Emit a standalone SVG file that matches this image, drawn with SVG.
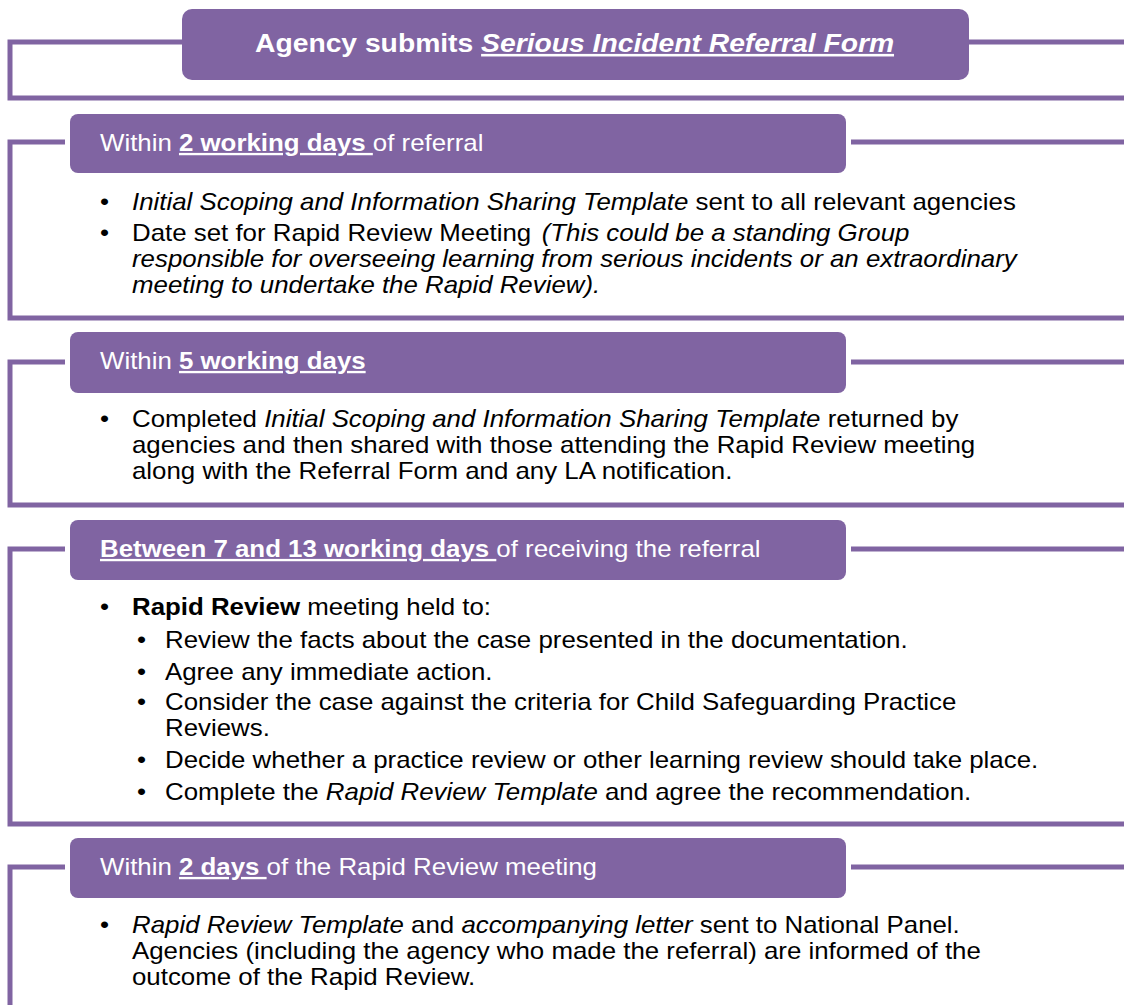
<svg xmlns="http://www.w3.org/2000/svg" width="1124" height="1005" viewBox="0 0 1124 1005">
<style>
.ln{fill:none;stroke:#8064A2;stroke-width:5}
.box{fill:#8064A2}
text{font-family:"Liberation Sans",Arial,sans-serif}
.tt{font-size:25.7px;font-weight:bold;fill:#fff}
.hd{font-size:23.4px;fill:#fff}
.bd{font-size:23.4px;fill:#000}
.b{font-weight:bold}
.i{font-style:italic}
.u{text-decoration:underline}
</style>
<rect width="1124" height="1005" fill="#fff"/>
<g id="connectors">
<path class="ln" d="M184 42H10V98H1124M967 42H1124"/>
<path class="ln" d="M65 142H10V318H1124M851 142H1124"/>
<path class="ln" d="M65 362H10V505H1124M851 362H1124"/>
<path class="ln" d="M65 549H10V824H1124M851 549H1124"/>
<path class="ln" d="M65 867H10V1005M851 867H1124"/>
</g>
<g id="node-referral">
<rect class="box" x="182" y="9" width="787" height="71" rx="10"/>
<text class="tt" transform="translate(255,52) scale(1.1,1)">Agency submits <tspan class="i u">Serious Incident Referral Form</tspan></text>
</g>
<g id="node-2days">
<rect class="box" x="70" y="114" width="776" height="59" rx="8"/>
<text class="hd" transform="translate(100,151) scale(1.105,1)">Within <tspan class="b u">2 working days </tspan>of referral</text>
<text class="bd" transform="translate(100,210) scale(1.105,1)">•</text>
<text class="bd" transform="translate(132,210) scale(1.105,1)"><tspan class="i">Initial Scoping and Information Sharing Template</tspan> sent to all relevant agencies</text>
<text class="bd" transform="translate(100,241) scale(1.105,1)">•</text>
<text class="bd" transform="translate(132,241) scale(1.105,1)">Date set for Rapid Review Meeting <tspan class="i" dx="3">(This could be a standing Group</tspan></text>
<text class="bd i" transform="translate(132,267) scale(1.105,1)">responsible for overseeing learning from serious incidents or an extraordinary</text>
<text class="bd i" transform="translate(132,293) scale(1.105,1)">meeting to undertake the Rapid Review).</text>
</g>
<g id="node-5days">
<rect class="box" x="70" y="332" width="776" height="61" rx="8"/>
<text class="hd" transform="translate(100,369) scale(1.105,1)">Within <tspan class="b u">5 working days</tspan></text>
<text class="bd" transform="translate(100,427) scale(1.105,1)">•</text>
<text class="bd" transform="translate(132,427) scale(1.105,1)">Completed <tspan class="i">Initial Scoping and Information Sharing Template</tspan> returned by</text>
<text class="bd" transform="translate(132,453) scale(1.105,1)">agencies and then shared with those attending the Rapid Review meeting</text>
<text class="bd" transform="translate(132,479) scale(1.105,1)">along with the Referral Form and any LA notification.</text>
</g>
<g id="node-7-13days">
<rect class="box" x="70" y="520" width="776" height="60" rx="8"/>
<text class="hd" transform="translate(100,557) scale(1.105,1)"><tspan class="b u">Between 7 and 13 working days </tspan>of receiving the referral</text>
<text class="bd" transform="translate(100,615) scale(1.105,1)">•</text>
<text class="bd" transform="translate(132,615) scale(1.105,1)"><tspan class="b">Rapid Review</tspan> meeting held to:</text>
<text class="bd" transform="translate(137,648) scale(1.105,1)">•</text>
<text class="bd" transform="translate(165,648) scale(1.105,1)">Review the facts about the case presented in the documentation.</text>
<text class="bd" transform="translate(137,680) scale(1.105,1)">•</text>
<text class="bd" transform="translate(165,680) scale(1.105,1)">Agree any immediate action.</text>
<text class="bd" transform="translate(137,710) scale(1.105,1)">•</text>
<text class="bd" transform="translate(165,710) scale(1.105,1)">Consider the case against the criteria for Child Safeguarding Practice</text>
<text class="bd" transform="translate(165,736) scale(1.105,1)">Reviews.</text>
<text class="bd" transform="translate(137,768) scale(1.105,1)">•</text>
<text class="bd" transform="translate(165,768) scale(1.105,1)">Decide whether a practice review or other learning review should take place.</text>
<text class="bd" transform="translate(137,800) scale(1.105,1)">•</text>
<text class="bd" transform="translate(165,800) scale(1.105,1)">Complete the <tspan class="i">Rapid Review Template</tspan> and agree the recommendation.</text>
</g>
<g id="node-2days-after">
<rect class="box" x="70" y="838" width="776" height="60" rx="8"/>
<text class="hd" transform="translate(100,875) scale(1.105,1)">Within <tspan class="b u">2 days </tspan>of the Rapid Review meeting</text>
<text class="bd" transform="translate(100,933) scale(1.105,1)">•</text>
<text class="bd" transform="translate(132,933) scale(1.105,1)"><tspan class="i">Rapid Review Template</tspan> and <tspan class="i">accompanying letter</tspan> sent to National Panel.</text>
<text class="bd" transform="translate(132,959) scale(1.105,1)">Agencies (including the agency who made the referral) are informed of the</text>
<text class="bd" transform="translate(132,985) scale(1.105,1)">outcome of the Rapid Review.</text>
</g>
</svg>
